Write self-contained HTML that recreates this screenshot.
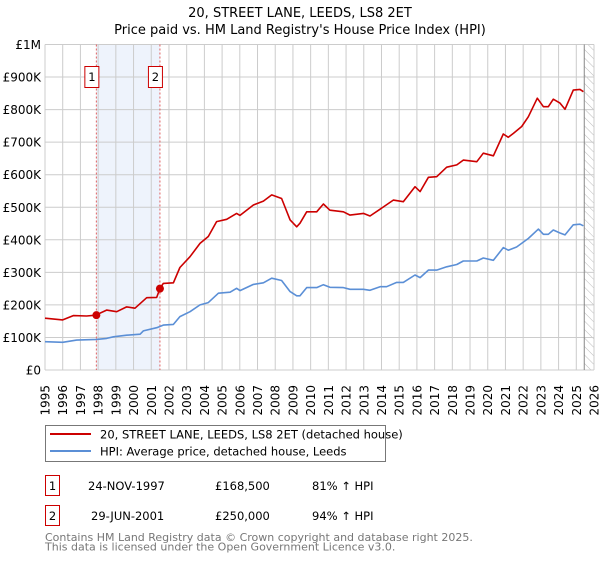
<!DOCTYPE html>
<html><head><meta charset="utf-8">
<style>
body{margin:0;background:#fff;}
svg text{font-family:"DejaVu Sans","Liberation Sans",sans-serif;}
</style></head>
<body>
<svg id="chart" width="600" height="560" xmlns="http://www.w3.org/2000/svg">
<text x="300" y="17" text-anchor="middle" font-size="13" fill="#000">20, STREET LANE, LEEDS, LS8 2ET</text>
<text x="300" y="34" text-anchor="middle" font-size="13" fill="#000">Price paid vs. HM Land Registry's House Price Index (HPI)</text>
<g id="plot"></g>
<g>
<rect x="45.5" y="425.5" width="340" height="36" fill="#fff" stroke="#777"/>
<line x1="50" y1="434" x2="91" y2="434" stroke="#cc0000" stroke-width="2"/>
<text x="100" y="438.5" font-size="11.5">20, STREET LANE, LEEDS, LS8 2ET (detached house)</text>
<line x1="50" y1="451" x2="91" y2="451" stroke="#5b8fd6" stroke-width="2"/>
<text x="100" y="455.5" font-size="11.5">HPI: Average price, detached house, Leeds</text>
</g>
<g font-size="11.5">
<rect x="45.5" y="475.5" width="14" height="20" fill="#fff" stroke="#cc0000"/>
<text x="52.5" y="490" text-anchor="middle">1</text>
<text x="88" y="490">24-NOV-1997</text><text x="215" y="490">£168,500</text><text x="312" y="490">81% ↑ HPI</text>
<rect x="45.5" y="505.5" width="14" height="20" fill="#fff" stroke="#cc0000"/>
<text x="52.5" y="520" text-anchor="middle">2</text>
<text x="91" y="520">29-JUN-2001</text><text x="215" y="520">£250,000</text><text x="312" y="520">94% ↑ HPI</text>
</g>
<text x="45" y="541" font-size="11" fill="#777">Contains HM Land Registry data © Crown copyright and database right 2025.</text>
<text x="45" y="550.5" font-size="11" fill="#777">This data is licensed under the Open Government Licence v3.0.</text>
</svg>
<script>
const yTicks=[0,100000,200000,300000,400000,500000,600000,700000,800000,900000,1000000];
const yTickLabels=["£0","£100K","£200K","£300K","£400K","£500K","£600K","£700K","£800K","£900K","£1M"];
const xYears=[1995,1996,1997,1998,1999,2000,2001,2002,2003,2004,2005,2006,2007,2008,2009,2010,2011,2012,2013,2014,2015,2016,2017,2018,2019,2020,2021,2022,2023,2024,2025,2026];
const redT=[1995.0,1996.0,1996.6,1997.35,1997.86,1998.48,1999.05,1999.61,2000.08,2000.74,2001.31,2001.49,2001.68,2002.25,2002.62,2003.19,2003.75,2004.22,2004.69,2005.26,2005.82,2006.01,2006.77,2007.33,2007.8,2008.36,2008.84,2009.21,2009.4,2009.78,2010.34,2010.72,2011.09,2011.85,2012.22,2012.98,2013.35,2013.92,2014.67,2015.23,2015.89,2016.18,2016.65,2017.12,2017.68,2018.25,2018.62,2019.38,2019.75,2020.32,2020.88,2021.16,2021.45,2021.92,2022.29,2022.8,2023.14,2023.42,2023.7,2024.08,2024.36,2024.83,2025.21,2025.4];
const redV=[159000,154000,167000,166000,168500,184000,179000,194000,190000,222000,223000,250000,266000,268000,315000,348000,389000,410000,456000,463000,481000,475000,507000,519000,538000,527000,461000,440000,451000,486000,486000,510000,491000,486000,476000,481000,473000,494000,522000,517000,563000,548000,592000,594000,623000,630000,645000,640000,666000,658000,725000,715000,727000,748000,778000,835000,809000,809000,832000,820000,801000,860000,862000,855000];
const blueT=[1995.0,1996.0,1996.79,1997.92,1998.48,1998.86,1999.61,2000.37,2000.55,2001.31,2001.68,2002.25,2002.62,2003.19,2003.75,2004.22,2004.79,2005.45,2005.82,2006.01,2006.77,2007.33,2007.8,2008.36,2008.84,2009.21,2009.4,2009.78,2010.34,2010.72,2011.09,2011.85,2012.22,2012.98,2013.35,2013.92,2014.29,2014.86,2015.23,2015.89,2016.18,2016.65,2017.12,2017.68,2018.25,2018.62,2019.38,2019.75,2020.32,2020.88,2021.16,2021.63,2022.29,2022.86,2023.14,2023.42,2023.7,2024.08,2024.36,2024.83,2025.21,2025.4];
const blueV=[87000,85000,92000,94000,97000,102000,107000,110000,120000,130000,138000,140000,164000,179000,200000,207000,236000,239000,251000,244000,263000,268000,282000,275000,241000,228000,228000,253000,253000,262000,254000,253000,248000,248000,245000,256000,256000,269000,269000,292000,284000,307000,307000,317000,324000,335000,335000,344000,337000,376000,368000,378000,404000,433000,417000,417000,430000,421000,415000,446000,448000,443000];
const saleT=[1997.9,2001.49];
const saleV=[168500,250000];
const saleLabels=["1","2"];

const X0=45,X1=594,Y0=370,Y1=44.5;
const xs=t=>X0+(t-1995)/(2026-1995)*(X1-X0);
const ys=v=>Y0-v/1000000*(Y0-Y1);
const NS="http://www.w3.org/2000/svg";
const plot=document.getElementById('plot');
function mk(tag,attrs,parent){const e=document.createElementNS(NS,tag);for(const k in attrs)e.setAttribute(k,attrs[k]);(parent||plot).appendChild(e);return e;}

const shade=mk('rect',{x:xs(saleT[0]),y:Y1,width:xs(saleT[1])-xs(saleT[0]),height:Y0-Y1,fill:'#eef3fc'});



const defs=mk('defs',{});
const pat=mk('pattern',{id:'hatch',width:6,height:6,patternUnits:'userSpaceOnUse',patternTransform:'rotate(-45)'},defs);
mk('line',{x1:0,y1:0,x2:0,y2:6,stroke:'#bbb','stroke-width':1},pat);
const hatch=mk('rect',{x:xs(2025.45),y:Y1,width:X1-xs(2025.45),height:Y0-Y1,fill:'url(#hatch)'});



xYears.forEach(y=>{
  const l=mk('line',{x1:xs(y),x2:xs(y),y1:Y1,y2:Y0,stroke:'#ccc','stroke-width':1});
  
  
  const t=mk('text',{x:0,y:0,'font-size':12,transform:`translate(${xs(y)+4.5},${Y0+15}) rotate(-90)`,'text-anchor':'end'});
  t.textContent=y;
  
  
});
yTicks.forEach((v,i)=>{
  const l=mk('line',{x1:X0,x2:X1,y1:ys(v),y2:ys(v),stroke:'#ccc','stroke-width':1});
  
  
  const t=mk('text',{x:X0-4,y:ys(v)+4.5,'font-size':12,'text-anchor':'end'});
  t.textContent=yTickLabels[i];
  
  
});
const hl=mk('line',{x1:xs(2025.45),x2:xs(2025.45),y1:Y1,y2:Y0,stroke:'#888','stroke-width':1});



saleT.forEach((t,i)=>{
  const l=mk('line',{x1:xs(t),x2:xs(t),y1:Y1,y2:Y0,stroke:'#e06060','stroke-width':1,'stroke-dasharray':'2,2'});
  
  
});

function line(T,V,color,name){
  const d=T.map((t,i)=>(i?'L':'M')+xs(t).toFixed(1)+','+ys(V[i]).toFixed(1)).join('');
  const p=mk('path',{d:d,fill:'none',stroke:color,'stroke-width':1.6,'stroke-linejoin':'round'});
  
  
}
line(blueT,blueV,'#5b8fd6','hpi-line');
line(redT,redV,'#cc0000','price-paid-line');

saleT.forEach((t,i)=>{
  const c=mk('circle',{cx:xs(t),cy:ys(saleV[i]),r:4,fill:'#cc0000'});
  
  
  const bx=xs(t)-11.5;
  const r=mk('rect',{x:bx,y:66.5,width:14,height:21,fill:'#fff',stroke:'#cc0000'});
  
  
  const tx=mk('text',{x:bx+7,y:81,'font-size':11.5,'text-anchor':'middle'});
  tx.textContent=saleLabels[i];
  
  
});
</script>
</body></html>
